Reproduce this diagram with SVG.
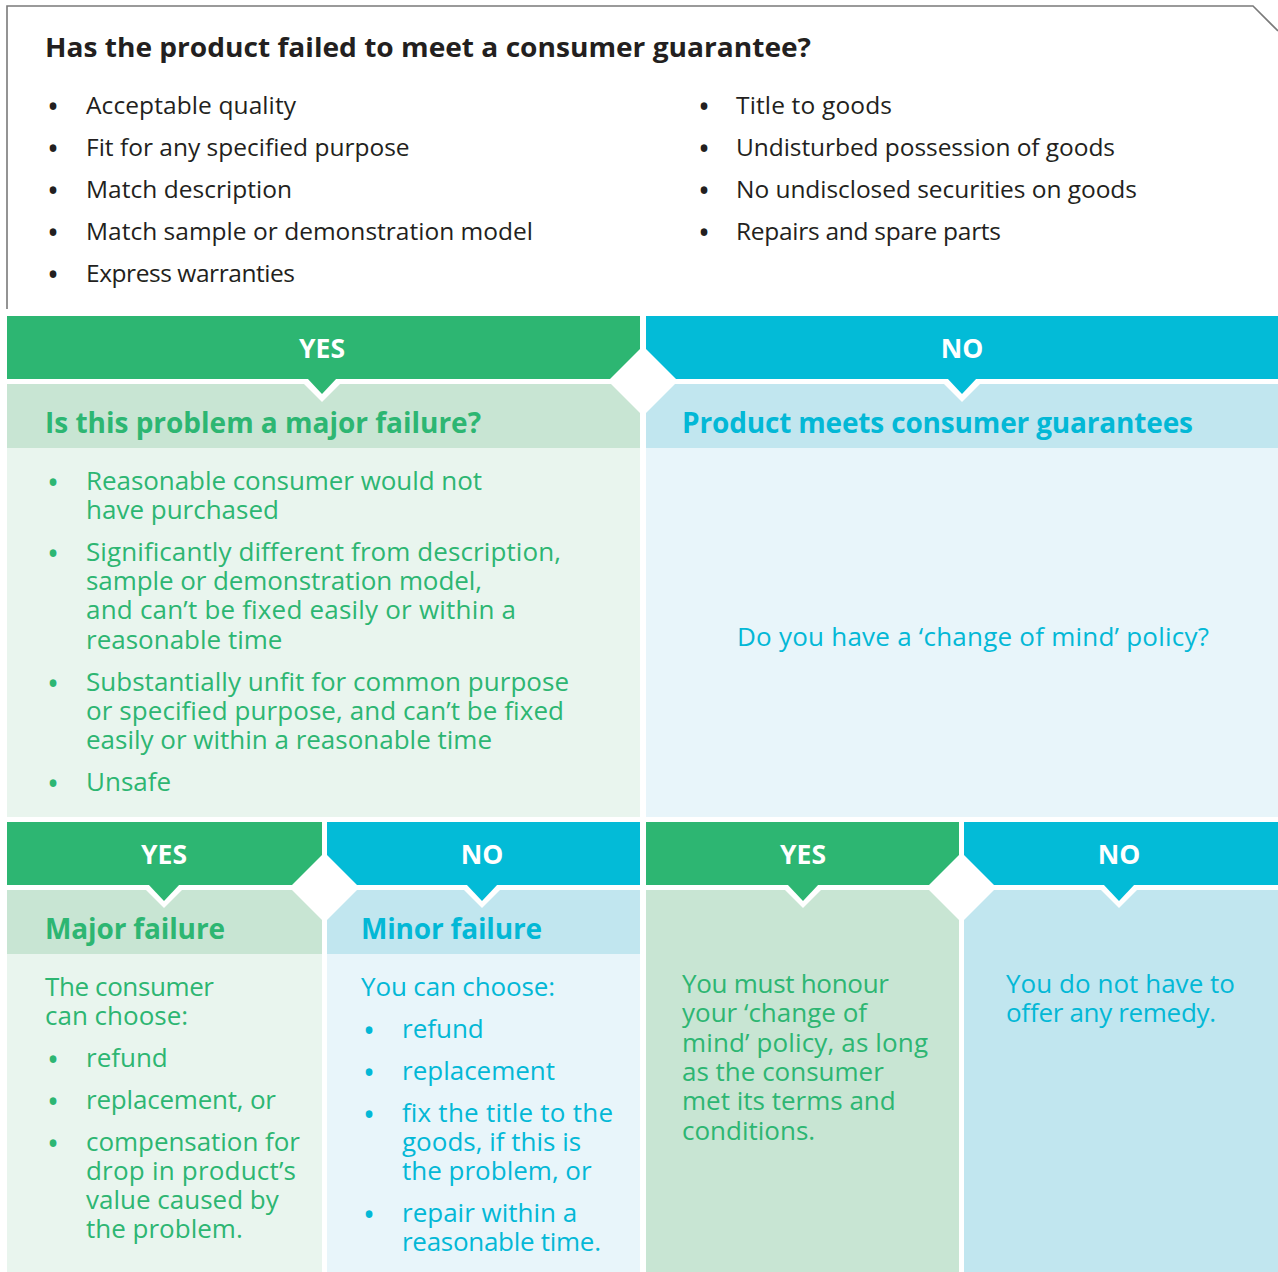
<svg xmlns="http://www.w3.org/2000/svg" width="1278" height="1272" viewBox="0 0 1278 1272">
<style>
text{font-family:"Open Sans","Noto Sans","DejaVu Sans",sans-serif;font-size:24.5px}
.b{font-size:26px}
.bl{font-size:32px}
.dk{fill:#231f20}
.g{fill:#2db672}
.c{fill:#03b8d6}
.hd{font-weight:bold;font-size:26.5px;fill:#ffffff}
.tt{font-weight:bold;font-size:27px;fill:#231f20}
.sh{font-weight:bold;font-size:28px}
.gh{fill:#2db672}
.ch{fill:#03bbd7}
.lg{fill:#c8e5d3}
.llg{fill:#e9f5ee}
.lc{fill:#c1e6ef}
.llc{fill:#e8f5fa}
.w{fill:#ffffff}
</style>
<g id="question">
<path d="M7,309 L7,6 L1253,6 L1278,31" fill="none" stroke="#7a7a7a" stroke-width="1.6"/>
<text class="tt" x="45" y="57" textLength="766" lengthAdjust="spacingAndGlyphs">Has the product failed to meet a consumer guarantee?</text>
<g class="dk">
<text class="bl" x="47" y="118">•</text><text x="86" y="114" textLength="210">Acceptable quality</text>
<text class="bl" x="47" y="160">•</text><text x="86" y="156">Fit for any specified purpose</text>
<text class="bl" x="47" y="202">•</text><text x="86" y="198" textLength="206">Match description</text>
<text class="bl" x="47" y="244">•</text><text x="86" y="240" textLength="447">Match sample or demonstration model</text>
<text class="bl" x="47" y="286">•</text><text x="86" y="282" textLength="209">Express warranties</text>
<text class="bl" x="698" y="118">•</text><text x="736" y="114" textLength="156">Title to goods</text>
<text class="bl" x="698" y="160">•</text><text x="736" y="156" textLength="379">Undisturbed possession of goods</text>
<text class="bl" x="698" y="202">•</text><text x="736" y="198" textLength="401">No undisclosed securities on goods</text>
<text class="bl" x="698" y="244">•</text><text x="736" y="240" textLength="265">Repairs and spare parts</text>
</g>
</g>
<g id="yes-major-check">
<rect class="lg" x="7" y="384" width="633" height="64"/>
<rect class="llg" x="7" y="448" width="633" height="369"/>
<polygon class="w" points="298,378 346,378 322,402"/>
<rect class="gh" x="7" y="316" width="633" height="63"/>
<polygon class="gh" points="307,378 337,378 322,394"/>
<text class="hd" x="322" y="358" text-anchor="middle">YES</text>
<text class="sh g" x="45" y="433" textLength="436">Is this problem a major failure?</text>
<g class="g">
<text class="bl" x="47" y="494">•</text><text class="b" x="86" y="490" textLength="396">Reasonable consumer would not</text>
<text class="b" x="86" y="519">have purchased</text>
<text class="bl" x="47" y="565">•</text><text class="b" x="86" y="561" textLength="475">Significantly different from description,</text>
<text class="b" x="86" y="590" textLength="396">sample or demonstration model,</text>
<text class="b" x="86" y="619" textLength="430">and can’t be fixed easily or within a</text>
<text class="b" x="86" y="649">reasonable time</text>
<text class="bl" x="47" y="695">•</text><text class="b" x="86" y="691" textLength="483">Substantially unfit for common purpose</text>
<text class="b" x="86" y="720" textLength="478">or specified purpose, and can’t be fixed</text>
<text class="b" x="86" y="749" textLength="406">easily or within a reasonable time</text>
<text class="bl" x="47" y="795">•</text><text class="b" x="86" y="791">Unsafe</text>
</g>
</g>
<g id="no-meets">
<rect class="lc" x="646" y="384" width="632" height="64"/>
<rect class="llc" x="646" y="448" width="632" height="369"/>
<polygon class="w" points="938,378 986,378 962,402"/>
<rect class="ch" x="646" y="316" width="632" height="63"/>
<polygon class="ch" points="947,378 977,378 962,394"/>
<text class="hd" x="962" y="358" text-anchor="middle">NO</text>
<text class="sh c" x="682" y="433" textLength="511">Product meets consumer guarantees</text>
<text class="b c" x="737" y="646" textLength="472">Do you have a ‘change of mind’ policy?</text>
</g>
<g id="major-failure">
<rect class="lg" x="7" y="890" width="315" height="64"/>
<rect class="llg" x="7" y="954" width="315" height="318"/>
<polygon class="w" points="140,884 188,884 164,908"/>
<rect class="gh" x="7" y="822" width="315" height="63"/>
<polygon class="gh" points="148,884 180,884 164,901"/>
<text class="hd" x="164" y="864" text-anchor="middle">YES</text>
<text class="sh g" x="45" y="939" textLength="180">Major failure</text>
<g class="g">
<text class="b" x="45" y="996" textLength="169">The consumer</text>
<text class="b" x="45" y="1025">can choose:</text>
<text class="bl" x="47" y="1071">•</text><text class="b" x="86" y="1067">refund</text>
<text class="bl" x="47" y="1113">•</text><text class="b" x="86" y="1109" textLength="190">replacement, or</text>
<text class="bl" x="47" y="1155">•</text><text class="b" x="86" y="1151" textLength="214">compensation for</text>
<text class="b" x="86" y="1180" textLength="210">drop in product’s</text>
<text class="b" x="86" y="1209">value caused by</text>
<text class="b" x="86" y="1238">the problem.</text>
</g>
</g>
<g id="minor-failure">
<rect class="lc" x="327" y="890" width="313" height="64"/>
<rect class="llc" x="327" y="954" width="313" height="318"/>
<polygon class="w" points="458,884 506,884 482,908"/>
<rect class="ch" x="327" y="822" width="313" height="63"/>
<polygon class="ch" points="466,884 498,884 482,901"/>
<text class="hd" x="482" y="864" text-anchor="middle">NO</text>
<text class="sh c" x="361" y="939" textLength="181">Minor failure</text>
<g class="c">
<text class="b" x="361" y="996" textLength="194">You can choose:</text>
<text class="bl" x="363" y="1042">•</text><text class="b" x="402" y="1038">refund</text>
<text class="bl" x="363" y="1084">•</text><text class="b" x="402" y="1080">replacement</text>
<text class="bl" x="363" y="1126">•</text><text class="b" x="402" y="1122" textLength="211">fix the title to the</text>
<text class="b" x="402" y="1151">goods, if this is</text>
<text class="b" x="402" y="1180">the problem, or</text>
<text class="bl" x="363" y="1226">•</text><text class="b" x="402" y="1222">repair within a</text>
<text class="b" x="402" y="1251" textLength="199">reasonable time.</text>
</g>
</g>
<g id="yes-change-of-mind">
<rect class="lg" x="646" y="890" width="313" height="382"/>
<polygon class="w" points="779,884 827,884 803,908"/>
<rect class="gh" x="646" y="822" width="313" height="63"/>
<polygon class="gh" points="787,884 819,884 803,901"/>
<text class="hd" x="803" y="864" text-anchor="middle">YES</text>
<g class="g">
<text class="b" x="682" y="993" textLength="207">You must honour</text>
<text class="b" x="682" y="1022">your ‘change of</text>
<text class="b" x="682" y="1052" textLength="246">mind’ policy, as long</text>
<text class="b" x="682" y="1081">as the consumer</text>
<text class="b" x="682" y="1110">met its terms and</text>
<text class="b" x="682" y="1140">conditions.</text>
</g>
</g>
<g id="no-remedy">
<rect class="lc" x="964" y="890" width="314" height="382"/>
<polygon class="w" points="1095,884 1143,884 1119,908"/>
<rect class="ch" x="964" y="822" width="314" height="63"/>
<polygon class="ch" points="1103,884 1135,884 1119,901"/>
<text class="hd" x="1119" y="864" text-anchor="middle">NO</text>
<g class="c">
<text class="b" x="1006" y="993" textLength="229">You do not have to</text>
<text class="b" x="1006" y="1022" textLength="210">offer any remedy.</text>
</g>
</g>
<g id="connectors">
<polygon class="w" points="643,346 678,381 643,416 608,381"/>
<polygon class="w" points="324.5,852.5 359.5,887.5 324.5,922.5 289.5,887.5"/>
<polygon class="w" points="961.5,852.5 996.5,887.5 961.5,922.5 926.5,887.5"/>
</g>
</svg>
